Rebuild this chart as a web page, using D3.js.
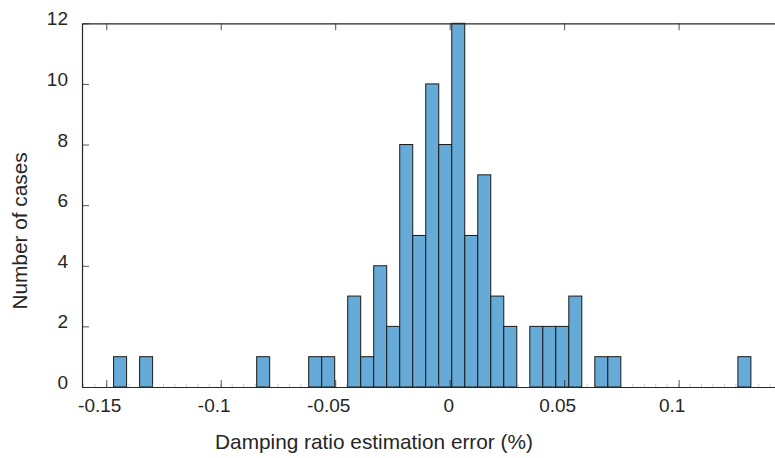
<!DOCTYPE html>
<html>
<head>
<meta charset="utf-8">
<script src="https://cdn.jsdelivr.net/npm/d3@7"></script>
<style>
  html, body { margin: 0; padding: 0; background: #fff; }
  svg { display: block; }
  text { font-family: "Liberation Sans", Arial, Helvetica, sans-serif; fill: #262626; }
</style>
</head>
<body>
<svg id="chart" width="775" height="458"></svg>
<script>
// ---- data ----
const binStart = -0.1468;
const binWidth = 0.005681;
const counts = [1,0,1,0,0,0,0,0,0,0,0,1,0,0,0,1,1,0,3,1,4,2,8,5,10,8,12,5,7,3,2,0,2,2,2,3,0,1,1,0,0,0,0,0,0,0,0,0,1];
const xTicks = [-0.15, -0.1, -0.05, 0, 0.05, 0.1];
const xTickLabels = ["-0.15", "-0.1", "-0.05", "0", "0.05", "0.1"];
const yTicks = [0, 2, 4, 6, 8, 10, 12];
const xLabel = "Damping ratio estimation error (%)";
const yLabel = "Number of cases";

// ---- layout ----
const svg = d3.select("#chart");
const pLeft = 82, pRight = 775, pTop = 23.3, pBottom = 387;
const x = d3.scaleLinear().domain([-0.1606, 0.1421]).range([pLeft, pRight]);
const y = d3.scaleLinear().domain([0, 12]).range([pBottom, pTop]);
const axisColor = "#262626";

const bins = counts.map((c, i) => ({x0: binStart + i * binWidth, x1: binStart + (i + 1) * binWidth, c}));

// bars
svg.append("g").selectAll("rect")
  .data(bins.filter(b => b.c > 0))
  .join("rect")
  .attr("x", d => x(d.x0))
  .attr("width", d => x(d.x1) - x(d.x0))
  .attr("y", d => y(d.c))
  .attr("height", d => y(0) - y(d.c))
  .attr("fill", "#66aad7")
  .attr("stroke", "#1a1a1a")
  .attr("stroke-width", 1);

// minor ticks (bottom)
const minor = d3.range(-0.16, 0.1425, 0.005).filter(v => v >= x.domain()[0] && v <= x.domain()[1]);
svg.append("g").selectAll("line")
  .data(minor)
  .join("line")
  .attr("x1", d => x(d)).attr("x2", d => x(d))
  .attr("y1", pBottom).attr("y2", pBottom - 3)
  .attr("stroke", "#9a9a9a").attr("stroke-width", 0.5);

// bottom axis
const gx = svg.append("g").attr("transform", `translate(0,${pBottom})`)
  .call(d3.axisBottom(x).tickValues(xTicks).tickSize(-7).tickSizeOuter(0).tickFormat((d, i) => xTickLabels[i]));
gx.select(".domain").attr("stroke", axisColor).attr("stroke-width", 1.2);
gx.selectAll(".tick line").attr("stroke", axisColor).attr("stroke-width", 0.8);
gx.selectAll(".tick text")
  .attr("y", 25).attr("dy", 0)
  .attr("dx", d => d === 0 ? -1.5 : -7)
  .style("font-size", "19px").attr("fill", axisColor);

// top axis (mirrored ticks)
const gt = svg.append("g").attr("transform", `translate(0,${pTop})`)
  .call(d3.axisTop(x).tickValues(xTicks).tickSize(-7).tickSizeOuter(0).tickFormat(""));
gt.select(".domain").attr("stroke", axisColor).attr("stroke-width", 1.2);
gt.selectAll(".tick line").attr("stroke", axisColor).attr("stroke-width", 0.8);

// left axis
const gy = svg.append("g").attr("transform", `translate(${pLeft},0)`)
  .call(d3.axisLeft(y).tickValues(yTicks).tickSize(-7).tickSizeOuter(0).tickFormat(d3.format("d")));
gy.select(".domain").attr("stroke", axisColor).attr("stroke-width", 1.2);
gy.selectAll(".tick line").attr("stroke", axisColor).attr("stroke-width", 0.8);
gy.selectAll(".tick text")
  .attr("x", -14).attr("dy", "0.32em").attr("y", -4.5)
  .style("font-size", "19px").attr("fill", axisColor);

// axis titles
svg.append("text")
  .attr("x", 374).attr("y", 449)
  .attr("text-anchor", "middle")
  .style("font-size", "20.8px")
  .text(xLabel);

svg.append("text")
  .attr("transform", "translate(27,231) rotate(-90)")
  .attr("text-anchor", "middle")
  .style("font-size", "20.8px")
  .text(yLabel);
</script>
</body>
</html>
